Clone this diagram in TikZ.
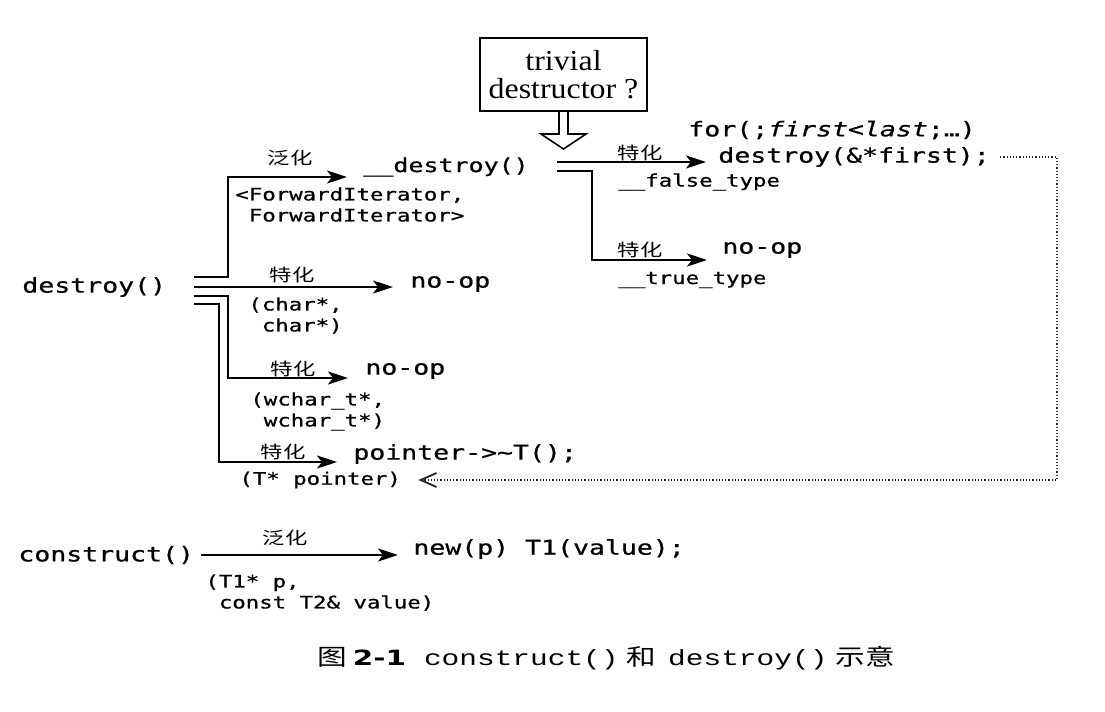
\documentclass[tikz,border=0pt]{standalone}
\usepackage{fontspec}
\setmainfont{Liberation Serif}
\setmonofont{DejaVu Sans Mono}[FakeStretch=1.3,FakeBold=0.8]
\newfontfamily\cjk{Noto Sans CJK SC}[FakeStretch=1.3]
\newfontfamily\capmono{Liberation Mono}[FakeStretch=1.34]
\newfontfamily\capnum{DejaVu Sans}[FakeStretch=1.4]
\newfontfamily\boxrm{Liberation Serif}[FakeStretch=1.1]
\usepackage{tikz}
\usetikzlibrary{arrows.meta}

\tikzset{
  code/.style={font=\fontsize{10.2}{12}\selectfont\ttfamily,inner sep=0pt,anchor=west},
  args/.style={font=\fontsize{8.6}{10.5}\selectfont\ttfamily,inner sep=0pt,anchor=north west,align=left},
  tag/.style={font=\fontsize{8.6}{10}\selectfont\cjk,inner sep=0pt},
  flow/.style={line width=1pt,-{Stealth[length=10pt,width=6.5pt,inset=2.5pt]}},
  back/.style={densely dotted,line width=0.6pt,black!85,
    -{Straight Barb[length=8pt,width=7pt,line width=0.9pt]}}
}

\begin{document}
\begin{tikzpicture}[x=0.5pt,y=-0.5pt]
  \useasboundingbox (0,0) rectangle (1105,712);

  \node (triv) [draw,line width=1pt,minimum width=83.5pt,minimum height=36.5pt,
    align=center,font=\fontsize{14.5}{14}\selectfont\boxrm] at (563.5,74.5)
    {trivial\\destructor ?};
  \draw[line width=0.8pt] (triv.south) ++(-4.5,0) -- ++(0,22) -- ++(-18,0)
    -- ++(22.5,15) -- ++(22.5,-15) -- ++(-18,0) -- ++(0,-22);

  \node (destroy) [code] at (22,287) {destroy()};
  \node (dstr) [code,font=\fontsize{9.6}{12}\selectfont\ttfamily] at (363,167) {\_\_destroy()};
  \node (forl) [code] at (688,130) {for(;\textit{first}<\textit{last};…)};
  \node (dfirst) [code] at (718,157) {destroy(\&*first);};
  \node (nop1) [code] at (722,250) {no-op};
  \node (nop2) [code] at (410,284) {no-op};
  \node (nop3) [code] at (365,371) {no-op};
  \node (ptr) [code] at (353,454) {pointer->\textasciitilde T();};
  \node (cons) [code] at (18,555) {construct()};
  \node (newp) [code] at (413,549) {new(p) T1(value);};

  \node (g1) [tag] at (290,158) {泛化};
  \node (s1) [tag] at (292,275) {特化};
  \node (s2) [tag] at (293,369) {特化};
  \node (s3) [tag] at (283,452) {特化};
  \node (s4) [tag] at (640,153) {特化};
  \node (s5) [tag] at (640,250) {特化};
  \node (g2) [tag] at (285,538) {泛化};

  \node (fi) [args] at (235,187) {<ForwardIterator,\\\hphantom{<}ForwardIterator>};
  \node (ch) [args] at (248,297) {(char*,\\\hphantom{(}char*)};
  \node (wch) [args] at (250,392) {(wchar\_t*,\\\hphantom{(}wchar\_t*)};
  \node (tp) [args,anchor=west] at (239,480) {(T* pointer)};
  \node (ft) [args,anchor=west] at (618,182) {\_\_false\_type};
  \node (tt) [args,anchor=west] at (618,280) {\_\_true\_type};
  \node (tc) [args] at (205,574) {(T1* p,\\\hphantom{(}const T2\& value)};

  \path (node cs:name=destroy,anchor=east) +(28,-10) coordinate (o1);
  \path (node cs:name=destroy,anchor=east) +(28,0) coordinate (o2);
  \path (node cs:name=destroy,anchor=east) +(28,9) coordinate (o3);
  \path (node cs:name=destroy,anchor=east) +(28,17) coordinate (o4);
  \path (node cs:name=dstr,anchor=east) +(28,-5) coordinate (o5);
  \path (node cs:name=dstr,anchor=east) +(28,4) coordinate (o6);
  \coordinate (rc) at (1057,300);

  \draw[flow,shorten >=8pt] (o1) -- ++(34,0) |- ([yshift=-5pt]dstr.west);
  \draw[flow,shorten >=8.5pt] (o2) -- (o2 -| nop2.west);
  \draw[flow,shorten >=8.5pt] (o3) -- ++(34,0) |- ([yshift=-3.5pt]nop3.west);
  \draw[flow,shorten >=8pt] (o4) -- ++(25,0) |- ([yshift=-4pt]ptr.west);
  \draw[flow,shorten >=6pt] (o5) -- (o5 -| dfirst.west);
  \draw[flow,shorten >=7.5pt] (o6) -- ++(35,0) |- ([yshift=-5pt]nop1.west);
  \draw[flow,shorten <=3.5pt,shorten >=7.5pt] (cons.east) -- (cons.east -| newp.west);
  \draw[back,shorten <=5pt,shorten >=8.5pt] (dfirst.east) -| (rc) |- (tp.east);

  \node (cap) [inner sep=0pt] at (606,658) {\fontsize{11.4}{12}\selectfont\cjk 图%
    \hspace{3pt}{\fontsize{10.5}{12}\selectfont\capnum\bfseries 2-1}\hspace{9pt}%
    {\fontsize{11}{12}\selectfont\capmono construct()}\hspace{4pt}和\hspace{6pt}%
    {\fontsize{11}{12}\selectfont\capmono destroy()}\hspace{4pt}示意};
\end{tikzpicture}
\end{document}
